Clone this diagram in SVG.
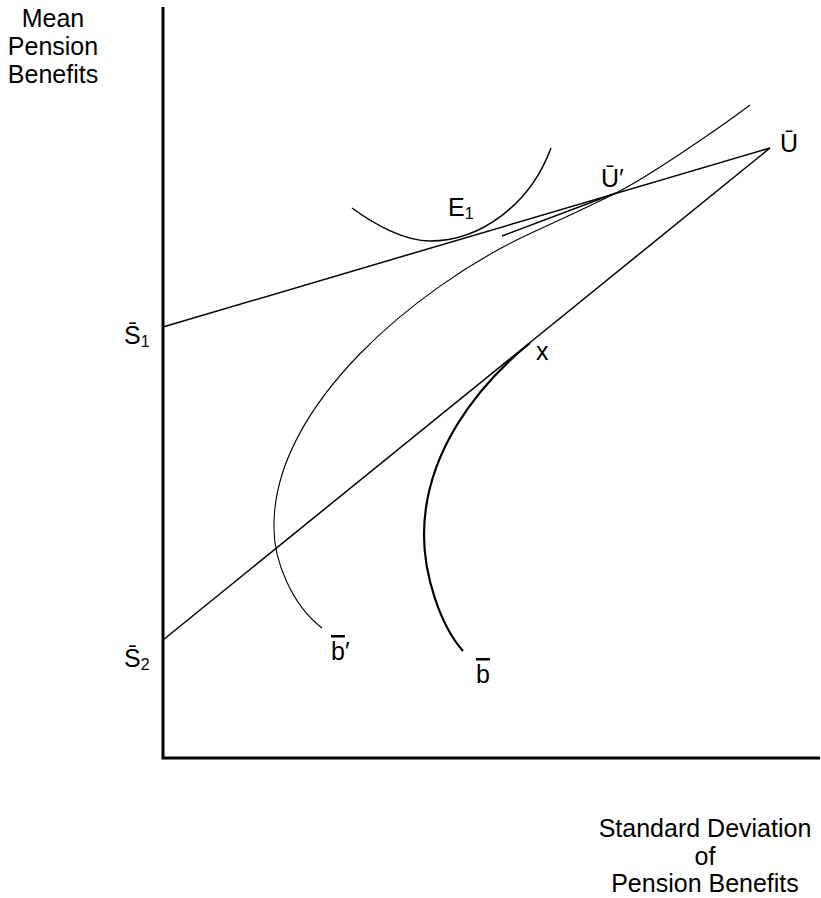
<svg xmlns="http://www.w3.org/2000/svg" width="821" height="898" viewBox="0 0 821 898">
<style>
  .lbl { font-family: "Liberation Sans", Arial, sans-serif; font-size: 25px; fill: #000; text-anchor: middle; }
  .pt { font-family: "Liberation Sans", Arial, sans-serif; font-size: 25px; fill: #000; }
  .sub { font-size: 16px; }
  .ln { fill: none; stroke: #000; stroke-width: 1.5; }
  .thin { fill: none; stroke: #000; stroke-width: 1.1; }
  .thick { fill: none; stroke: #000; stroke-width: 2.2; }
  .axis { fill: none; stroke: #000; stroke-width: 3; }
</style>
<rect width="821" height="898" fill="#fff"/>
<g id="axes">
  <path class="axis" d="M163,7 V758 H820"/>
</g>
<g id="axis-labels">
  <text class="lbl" x="53" y="27">Mean</text>
  <text class="lbl" x="53" y="55">Pension</text>
  <text class="lbl" x="53" y="83">Benefits</text>
  <text class="lbl" x="705" y="837">Standard Deviation</text>
  <text class="lbl" x="705" y="865">of</text>
  <text class="lbl" x="705" y="892">Pension Benefits</text>
</g>
<g id="connectors">
  <path id="line-S1-U" class="ln" d="M163,327 L770,148"/>
  <path id="line-S2-U" class="ln" d="M163,640 L770,148"/>
  <path id="tangent-U-prime" class="ln" d="M502,236 L616,193"/>
</g>
<g id="curve-E1">
  <path class="ln" d="M352,208 C375,225 405,241 430,241 C480,241 530,205 551,148"/>
</g>
<g id="curve-b-prime">
  <path class="thin" d="M750,105 C725,124 650,176 616,193 C582,210 557,221 527,235 C417,287 274,405 274,525 C273,560 292,605 322,628"/>
</g>
<g id="curve-b">
  <path class="thick" d="M530,343 C475.6,387 424,455 424,535 C424,575 440,625 463,651"/>
</g>
<g id="point-labels">
  <text class="pt" x="124" y="344">S&#x304;<tspan class="sub" dy="3">1</tspan></text>
  <text class="pt" x="124" y="667">S&#x304;<tspan class="sub" dy="3">2</tspan></text>
  <text class="pt" x="448" y="216">E<tspan class="sub" dy="3">1</tspan></text>
  <text class="pt" x="601" y="187">U&#x304;′</text>
  <text class="pt" x="780" y="152">U&#x304;</text>
  <text class="pt" x="536" y="360">x</text>
  <text class="pt" x="331" y="660"><tspan text-decoration="overline">b</tspan>′</text>
  <text class="pt" x="476" y="683"><tspan text-decoration="overline">b</tspan></text>
</g>
</svg>
